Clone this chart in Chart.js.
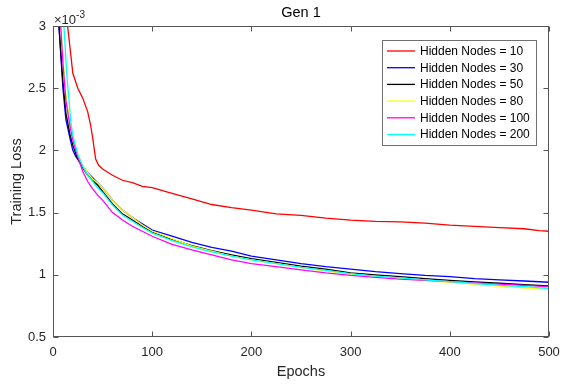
<!DOCTYPE html>
<html><head><meta charset="utf-8">
<script src="https://cdn.jsdelivr.net/npm/chart.js@4/dist/chart.umd.min.js"></script>
<style>html,body{margin:0;padding:0;background:#fff;overflow:hidden}canvas{display:block}</style>
</head><body>
<canvas id="c" width="563" height="387"></canvas>
<script>
// ---- data (loss in units of 1e-3) ----
const chartTitle = 'Gen 1';
const xTitle = 'Epochs';
const yTitle = 'Training Loss';
const yExponent = '-3';
const xTicks = [0, 100, 200, 300, 400, 500];
const yTicks = [0.5, 1, 1.5, 2, 2.5, 3];
const seriesLabels = ['Hidden Nodes = 10', 'Hidden Nodes = 30', 'Hidden Nodes = 50', 'Hidden Nodes = 80', 'Hidden Nodes = 100', 'Hidden Nodes = 200'];
const seriesColors = ['#ff0000', '#0000ff', '#000000', '#ffff00', '#ff00ff', '#00ffff'];

const epochs10 = [1, 5, 10, 15, 20, 25, 30, 35, 38, 40, 43, 46, 50, 60, 70, 80, 90, 100, 120, 140, 160, 180, 200, 225, 250, 275, 300, 325, 350, 375, 400, 425, 450, 475, 490, 500];
const loss10   = [4.2, 3.8, 3.35, 2.98, 2.62, 2.50, 2.42, 2.31, 2.20, 2.10, 1.93, 1.88, 1.85, 1.80, 1.76, 1.74, 1.71, 1.70, 1.655, 1.61, 1.565, 1.54, 1.52, 1.49, 1.478, 1.455, 1.44, 1.43, 1.425, 1.415, 1.40, 1.39, 1.38, 1.37, 1.355, 1.35];

const epochs30 = [1, 3, 6, 10, 13, 17, 20, 23, 28, 35, 40, 45, 50, 60, 70, 80, 90, 100, 120, 140, 160, 180, 200, 225, 250, 275, 300, 325, 350, 375, 400, 425, 450, 475, 500];
const loss30   = [4.5, 3.5, 3.0, 2.5, 2.25, 2.1, 2.0, 1.95, 1.9, 1.82, 1.78, 1.74, 1.70, 1.60, 1.52, 1.46, 1.41, 1.36, 1.31, 1.26, 1.22, 1.19, 1.15, 1.12, 1.09, 1.065, 1.045, 1.025, 1.01, 0.995, 0.985, 0.97, 0.96, 0.95, 0.94];

const epochs50 = [1, 6, 10, 13, 17, 20, 25, 30, 35, 40, 45, 50, 60, 70, 80, 90, 100, 120, 140, 160, 180, 200, 225, 250, 275, 300, 325, 350, 375, 400, 425, 450, 475, 500];
const loss50   = [4.4, 3.0, 2.55, 2.3, 2.13, 2.04, 1.93, 1.86, 1.80, 1.76, 1.72, 1.67, 1.57, 1.49, 1.44, 1.39, 1.345, 1.285, 1.235, 1.195, 1.16, 1.13, 1.10, 1.07, 1.045, 1.015, 1.0, 0.985, 0.97, 0.955, 0.943, 0.932, 0.92, 0.91];

const epochs80 = [1, 8, 10, 13, 17, 20, 25, 30, 35, 40, 45, 50, 60, 70, 80, 90, 100, 120, 140, 160, 180, 200, 225, 250, 275, 300, 325, 350, 375, 400, 425, 450, 475, 500];
const loss80   = [4.3, 3.0, 2.75, 2.45, 2.22, 2.1, 1.97, 1.88, 1.82, 1.77, 1.74, 1.70, 1.60, 1.52, 1.46, 1.40, 1.35, 1.29, 1.23, 1.19, 1.15, 1.12, 1.09, 1.06, 1.03, 1.005, 0.985, 0.97, 0.955, 0.94, 0.925, 0.91, 0.895, 0.885];

const epochs100 = [1, 7, 10, 13, 17, 20, 25, 30, 35, 40, 45, 50, 60, 70, 80, 90, 100, 120, 140, 160, 180, 200, 225, 250, 275, 300, 325, 350, 375, 400, 425, 450, 475, 500];
const loss100   = [4.4, 3.1, 2.7, 2.4, 2.2, 2.08, 1.95, 1.83, 1.75, 1.69, 1.64, 1.60, 1.50, 1.44, 1.39, 1.35, 1.31, 1.245, 1.20, 1.16, 1.12, 1.09, 1.065, 1.04, 1.015, 0.995, 0.98, 0.965, 0.955, 0.945, 0.935, 0.925, 0.915, 0.905];

const epochs200 = [1, 11, 14, 18, 20, 25, 30, 35, 40, 45, 50, 60, 70, 80, 90, 100, 120, 140, 160, 180, 200, 225, 250, 275, 300, 325, 350, 375, 400, 425, 450, 475, 500];
const loss200   = [4.6, 3.0, 2.6, 2.23, 2.12, 1.97, 1.87, 1.80, 1.75, 1.70, 1.66, 1.56, 1.48, 1.43, 1.38, 1.335, 1.275, 1.225, 1.185, 1.15, 1.12, 1.09, 1.06, 1.035, 1.01, 0.99, 0.975, 0.96, 0.945, 0.93, 0.915, 0.905, 0.89];

const seriesEpochs = [epochs10, epochs30, epochs50, epochs80, epochs100, epochs200];
const seriesLoss = [loss10, loss30, loss50, loss80, loss100, loss200];

const FONT = '"Liberation Sans", Arial, Helvetica, sans-serif';
const AXIS_COLOR = '#555555';

const datasets = seriesLabels.map((lab, i) => ({
  label: lab,
  data: seriesEpochs[i].map((e, k) => ({x: e, y: seriesLoss[i][k]})),
  borderColor: seriesColors[i],
  backgroundColor: seriesColors[i],
  borderWidth: 1.3,
  pointRadius: 0,
  tension: 0,
  fill: false,
  order: seriesLabels.length - 1 - i
}));

const matlabAxes = {
  id: 'matlabAxes',
  afterDraw(chart) {
    const {ctx, chartArea: a, scales: {x, y}} = chart;
    ctx.save();
    const L = Math.round(a.left) + 0.5, R = Math.round(a.right) - 0.5;
    const T = Math.round(a.top) + 0.5, B = Math.round(a.bottom) - 0.5;
    ctx.strokeStyle = AXIS_COLOR;
    ctx.lineWidth = 1;
    ctx.strokeRect(L, T, R - L, B - T);
    const tl = 5;
    ctx.beginPath();
    xTicks.forEach(v => {
      const px = Math.round(x.getPixelForValue(v)) + 0.5;
      ctx.moveTo(px, B); ctx.lineTo(px, B - tl);
      ctx.moveTo(px, T); ctx.lineTo(px, T + tl);
    });
    yTicks.forEach(v => {
      const py = Math.round(y.getPixelForValue(v)) + 0.5;
      ctx.moveTo(L, py); ctx.lineTo(L + tl, py);
      ctx.moveTo(R, py); ctx.lineTo(R - tl, py);
    });
    ctx.stroke();

    // title centred over the axes
    ctx.fillStyle = '#000000';
    ctx.textAlign = 'center';
    ctx.textBaseline = 'middle';
    ctx.font = '14.5px ' + FONT;
    ctx.fillText(chartTitle, (a.left + a.right) / 2, 13);

    // exponent label
    ctx.fillStyle = '#262626';
    ctx.textBaseline = 'alphabetic';
    ctx.textAlign = 'left';
    ctx.font = '13px ' + FONT;
    const base = '\u00d710';
    ctx.fillText(base, a.left + 1, a.top - 2);
    const w = ctx.measureText(base).width;
    ctx.font = '10px ' + FONT;
    ctx.fillText(yExponent, a.left + 1 + w, a.top - 8);

    // legend
    const bx = 382.5, by = 40.5, bw = 154, bh = 105;
    ctx.fillStyle = '#ffffff';
    ctx.fillRect(bx, by, bw, bh);
    ctx.strokeStyle = '#707070';
    ctx.lineWidth = 1;
    ctx.strokeRect(bx, by, bw, bh);
    ctx.font = '12px ' + FONT;
    ctx.textBaseline = 'middle';
    chart.data.datasets.forEach((ds, i) => {
      const ry = 51 + i * 16.7;
      ctx.strokeStyle = ds.borderColor;
      ctx.lineWidth = 1.3;
      ctx.beginPath();
      ctx.moveTo(387, ry); ctx.lineTo(415, ry);
      ctx.stroke();
      ctx.fillStyle = '#000000';
      ctx.fillText(ds.label, 420, ry + 0.5);
    });
    ctx.restore();
  }
};

new Chart(document.getElementById('c'), {
  type: 'line',
  data: {datasets},
  options: {
    responsive: false,
    animation: false,
    devicePixelRatio: 1,
    layout: {padding: {left: 0, right: 14, top: 26, bottom: 0}},
    plugins: {
      legend: {display: false},
      tooltip: {enabled: false},
      title: {display: false}
    },
    scales: {
      x: {
        type: 'linear', min: 0, max: 500,
        afterBuildTicks: s => { s.ticks = xTicks.map(v => ({value: v})); },
        afterFit: s => { s.height = 50; s.paddingLeft = 0; s.paddingRight = 0; },
        grid: {display: false, drawTicks: false},
        border: {display: false},
        ticks: {color: '#262626', font: {family: FONT, size: 13}, padding: 8, maxRotation: 0,
                callback: v => String(v)},
        title: {display: true, text: xTitle, color: '#262626',
                font: {family: FONT, size: 14.5}, padding: {top: 0, bottom: 6}}
      },
      y: {
        type: 'linear', min: 0.5, max: 3,
        afterBuildTicks: s => { s.ticks = yTicks.map(v => ({value: v})); },
        afterFit: s => { s.width = 53; s.paddingTop = 0; s.paddingBottom = 0; },
        grid: {display: false, drawTicks: false},
        border: {display: false},
        ticks: {color: '#262626', font: {family: FONT, size: 13}, padding: 7,
                callback: v => String(v)},
        title: {display: true, text: yTitle, color: '#262626',
                font: {family: FONT, size: 14.5}, padding: {top: 8, bottom: 0}}
      }
    }
  },
  plugins: [matlabAxes]
});
</script>
</body></html>
